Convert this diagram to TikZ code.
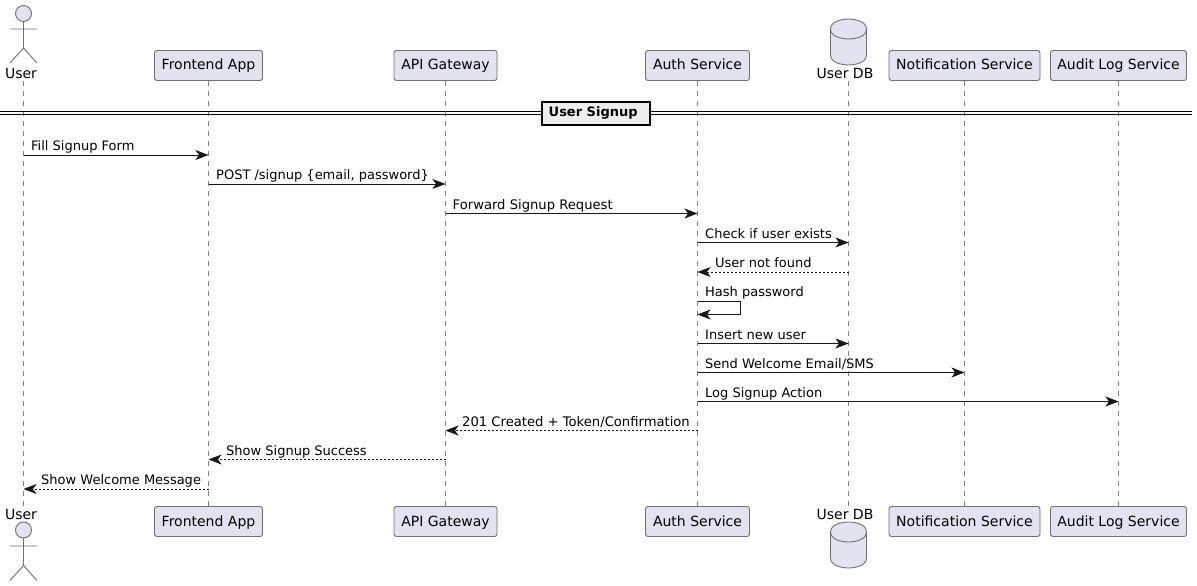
\documentclass[tikz,border=0pt]{standalone}
\usepackage{fontspec}
\setmainfont{DejaVu Sans}
\usetikzlibrary{arrows.meta}
\definecolor{partfill}{HTML}{E2E2F0}
\definecolor{partline}{HTML}{707074}
\definecolor{lifeline}{HTML}{808080}
\definecolor{ink}{HTML}{181818}
\tikzset{
  x=1pt,y=-1pt,
  txt/.style={font=\fontsize{14}{16}\selectfont,text=black,inner sep=0pt,anchor=base},
  msgtxt/.style={font=\fontsize{13}{15}\selectfont,text=black,inner sep=0pt,anchor=base west},
  widetxt/.style={msgtxt,font=\fontsize{13.15}{15}\selectfont},
  partbox/.style={draw=partline,line width=0.9pt,fill=partfill,rounded corners=2.5pt,minimum height=30pt,inner sep=0pt},
  lifeln/.style={draw=lifeline,line width=0.7pt,dash pattern=on 5pt off 5pt},
  actorln/.style={draw=partline,line width=0.9pt},
  msgln/.style={draw=ink,line width=1pt,-{Stealth[length=13pt,width=10pt,inset=3.5pt]}},
  retln/.style={msgln,dash pattern=on 2pt off 2pt},
  dbshape/.style={draw=partline,line width=0.9pt,fill=partfill}
}
\newcommand\partpair[3]{%
  \node[partbox,minimum width=\pw pt] (#1T) at (#2,65.5) {};
  \node[txt] (#1Tl) at (#2,70) {#3};
  \node[partbox,minimum width=\pw pt] (#1B) at (#2,521.5) {};
  \node[txt] (#1Bl) at (#2,526) {#3};
  \draw[lifeln] (#1T.south) -- (#1B.north);
}
\def\lift{4.4}
\def\lblstyle{msgtxt}
\newcommand\msg[6]{%
  \coordinate (#2a) at (#3T |- 0,#5);
  \coordinate (#2b) at (#4T |- 0,#5);
  \draw[#1] (#2a) -- (#2b);
  \node[\lblstyle] (#2l) at ([xshift=#6 pt,yshift=\lift pt]#2a) {\msglabel};
}
\begin{document}
\begin{tikzpicture}
\useasboundingbox (0,0) rectangle (1197,586);
\fill[white] (0,0) rectangle (1197,586);
\coordinate (userT) at (23.5,81);
\coordinate (userB) at (23.5,506);
\coordinate (dbT) at (848.5,81);
\coordinate (dbB) at (848.5,506);
\draw[lifeln] (userT) -- (userB);
\draw[lifeln] (dbT) -- (dbB);
\def\pw{108}\partpair{front}{208.5}{Frontend App}
\def\pw{103}\partpair{api}{445.5}{API Gateway}
\def\pw{104}\partpair{auth}{697.5}{Auth Service}
\def\pw{151}\partpair{notif}{964.5}{Notification Service}
\def\pw{136}\partpair{audit}{1118.5}{Audit Log Service}
\node[txt] (userTl) at (21,78) {User};
\node[circle,draw=partline,line width=0.9pt,fill=partfill,minimum size=16pt,inner sep=0pt] (userTh) at (23.5,13.5) {};
\draw[actorln] (userTh.south) -- (23.5,48) -- (10,63) (23.5,48) -- (37,63) (10,29) -- (37,29);
\node[txt] (userBl) at (21,519) {User};
\node[circle,draw=partline,line width=0.9pt,fill=partfill,minimum size=16pt,inner sep=0pt] (userBh) at (23.5,530) {};
\draw[actorln] (userBh.south) -- (23.5,565.5) -- (10,580.5) (23.5,565.5) -- (37,580.5) (10,546) -- (37,546);
\node[txt] (dbTl) at (845,78) {User DB};
\draw[dbshape] (830.5,29) .. controls (830.5,19) and (848.5,19) .. (848.5,19) .. controls (848.5,19) and (866.5,19) .. (866.5,29)
  -- (866.5,55) .. controls (866.5,65) and (848.5,65) .. (848.5,65) .. controls (848.5,65) and (830.5,65) .. (830.5,55) -- cycle;
\draw[dbshape,fill=none] (830.5,29) .. controls (830.5,39) and (848.5,39) .. (848.5,39) .. controls (848.5,39) and (866.5,39) .. (866.5,29);
\node[txt] (dbBl) at (845,519) {User DB};
\draw[dbshape] (830.5,532) .. controls (830.5,522) and (848.5,522) .. (848.5,522) .. controls (848.5,522) and (866.5,522) .. (866.5,532)
  -- (866.5,558) .. controls (866.5,568) and (848.5,568) .. (848.5,568) .. controls (848.5,568) and (830.5,568) .. (830.5,558) -- cycle;
\draw[dbshape,fill=none] (830.5,532) .. controls (830.5,542) and (848.5,542) .. (848.5,542) .. controls (848.5,542) and (866.5,542) .. (866.5,532);
\coordinate (divL) at (0,0); \coordinate (divR) at (1192,0);
\draw[black,line width=1.2pt] (divL |- 0,111.5) -- (divR |- 0,111.5) (divL |- 0,114.5) -- (divR |- 0,114.5);
\node[draw=black,line width=2pt,fill=black!7,minimum width=107.5pt,minimum height=23pt,inner sep=0pt] (divbox) at (596.2,113) {};
\node[msgtxt,font=\fontsize{13}{15}\selectfont\bfseries] (divtxt) at (548.5,117) {User Signup};
\def\msglabel{Fill Signup Form}\msg{msgln}{m1}{user}{front}{155}{7.5}
\def\msglabel{POST /signup \{email, password\}}\msg{msgln}{m2}{front}{api}{184}{7.5}
\def\lblstyle{widetxt}
\def\msglabel{Forward Signup Request}\msg{msgln}{m3}{api}{auth}{213.5}{7}
\def\lblstyle{msgtxt}
\def\msglabel{Check if user exists}\msg{msgln}{m4}{auth}{db}{242.5}{7.5}
\def\msglabel{User not found}\msg{retln}{m5}{db}{auth}{272}{-133.5}
\coordinate (m6a) at (authT |- 0,301.5);
\coordinate (m6b) at (authT |- 0,314.5);
\draw[msgln] (m6a) -- ++(42.5,0) -- ++(0,13) -- (m6b);
\node[msgtxt] (m6l) at ([xshift=7.5pt,yshift=5pt]m6a) {Hash password};
\def\msglabel{Insert new user}\msg{msgln}{m7}{auth}{db}{343.5}{7.5}
\def\msglabel{Send Welcome Email/SMS}\msg{msgln}{m8}{auth}{notif}{372.5}{7.5}
\def\msglabel{Log Signup Action}\msg{msgln}{m9}{auth}{audit}{401.5}{7.5}
\def\lblstyle{widetxt}
\def\msglabel{201 Created + Token/Confirmation}\msg{retln}{m10}{auth}{api}{430.5}{-235.5}
\def\lblstyle{msgtxt}
\def\msglabel{Show Signup Success}\msg{retln}{m11}{api}{front}{459.5}{-219.5}
\def\msglabel{Show Welcome Message}\msg{retln}{m12}{front}{user}{489}{-167.5}
\end{tikzpicture}
\end{document}
